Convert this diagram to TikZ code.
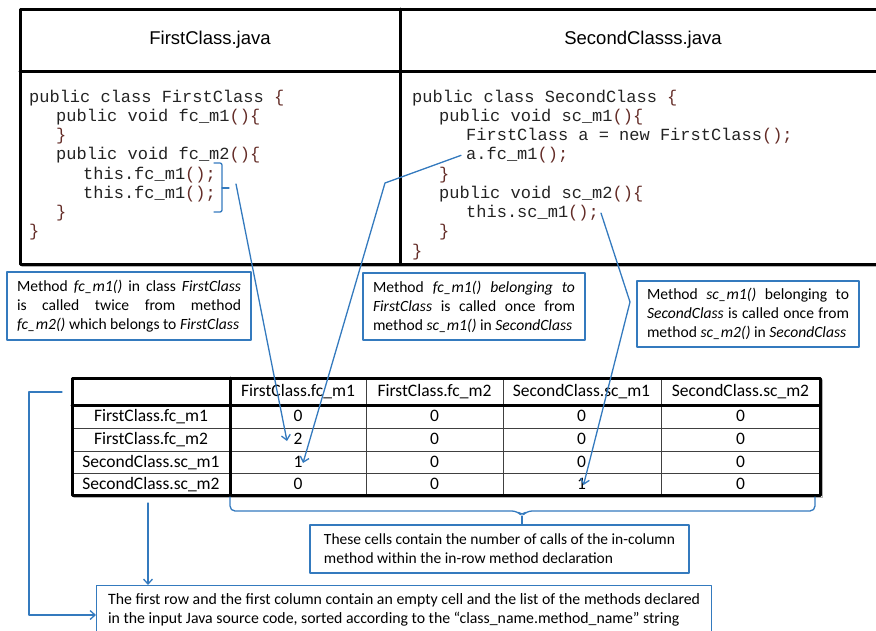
\documentclass[tikz,border=0pt]{standalone}
\usepackage{fontspec}
\usepackage{tikz}
\usetikzlibrary{arrows.meta}
\newfontfamily\headfont{Liberation Sans}
\newfontfamily\codefont{Liberation Mono}
\newfontfamily\notefont{Carlito}
\definecolor{callblue}{RGB}{52,122,190}
\definecolor{codebr}{RGB}{100,45,40}
\definecolor{codetxt}{RGB}{35,35,35}
\newcommand{\dl}[1]{\textcolor{codebr}{#1}}

\begin{document}
\begin{tikzpicture}[line cap=round,line join=round,>={Straight Barb[length=5pt,width=9pt]},x=1pt,y=-1pt,
	filehead/.style={font=\headfont\fontsize{18.5}{22}\selectfont},
	codeline/.style={anchor=base west,inner sep=0pt,text=codetxt,font=\codefont\fontsize{17}{20}\selectfont},
	notebox/.style={draw=callblue,line width=1.2pt,align=justify,inner xsep=10pt,font=\notefont\fontsize{15.6}{19}\selectfont},
	cellval/.style={text height=12pt,text depth=2pt,inner sep=1pt,font=\notefont\fontsize{17.5}{21}\selectfont},
	callline/.style={->,draw=callblue,line width=1.3pt}]
		\useasboundingbox (0,0) rectangle (876,630);
		\clip (0,0) rectangle (876,630);
		%%%%%%%%%%%%%%%%%%%%% S O U R C E S %%%%%%%%%%%%%%%%%%%%%
		\draw [line width=1.5pt,black!30] (22,266.5) -- (886,266.5);
		\draw [line width=3pt] (20,9) rectangle (886,264);
		\draw [line width=3pt] (20,71) -- (886,71);
		\draw [line width=3pt] (400,9) -- (400,264);
		\node[filehead] (fchead) at (210,40) {FirstClass.java};
		\node[filehead] (schead) at (643,40) {SecondClasss.java};
		%%%% FirstClass
		\node[codeline] (fc0) at (29,102) {public class FirstClass \dl{\{}};
		\node[codeline] (fc1) at (56,121.25) {public void fc\_m1\dl{()\{}};
		\node[codeline] (fc2) at (56,140.5) {\dl{\}}};
		\node[codeline] (fc3) at (56,159.75) {public void fc\_m2\dl{()\{}};
		\node[codeline] (fc4) at (83,179) {this.fc\_m1\dl{();}};
		\node[codeline] (fc5) at (83,198.25) {this.fc\_m1\dl{();}};
		\node[codeline] (fc6) at (56,217.5) {\dl{\}}};
		\node[codeline] (fc7) at (29,236.75) {\dl{\}}};
		%%%% SecondClass
		\node[codeline] (sc0) at (412,102) {public class SecondClass \dl{\{}};
		\node[codeline] (sc1) at (439,121.25) {public void sc\_m1\dl{()\{}};
		\node[codeline] (sc2) at (466,140.5) {FirstClass a = new FirstClass\dl{();}};
		\node[codeline] (sc3) at (466,159.75) {a.fc\_m1\dl{();}};
		\node[codeline] (sc4) at (439,179) {\dl{\}}};
		\node[codeline] (sc5) at (439,198.25) {public void sc\_m2\dl{()\{}};
		\node[codeline] (sc6) at (466,217.5) {this.sc\_m1\dl{();}};
		\node[codeline] (sc7) at (439,236.75) {\dl{\}}};
		\node[codeline] (sc8) at (412,256) {\dl{\}}};
		
		%%%%%%%%%%%%%%%%%%%%% N O T E S %%%%%%%%%%%%%%%%%%%%%
		\node[notebox,text width=224pt,minimum height=68pt] (twicenote) at (129,306) {Method \textit{fc\_m1()} in class \textit{FirstClass}\linebreak is called twice from method\linebreak \textit{fc\_m2()} which belongs to \textit{FirstClass}};
		\node[notebox,text width=202pt,minimum height=67pt] (oncenote) at (474,306.5) {Method \textit{fc\_m1() belonging to}\linebreak \textit{FirstClass} is called once from\linebreak method \textit{sc\_m1()} in \textit{SecondClass}};
		\node[notebox,text width=202pt,minimum height=66pt] (selfnote) at (748,314) {Method \textit{sc\_m1()} belonging to\linebreak \textit{SecondClass} is called once from\linebreak method \textit{sc\_m2()} in \textit{SecondClass}};
		
		%%%%%%%%%%%%%%%%%%%%% M A T R I X %%%%%%%%%%%%%%%%%%%%%
		\draw [line width=1.5pt,black!30] (74,497.5) -- (822.5,497.5) -- (822.5,380);
		\draw [line width=1pt,black!75] (72,428) -- (820,428);
		\draw [line width=1pt,black!75] (72,451) -- (820,451);
		\draw [line width=1pt,black!75] (72,473) -- (820,473);
		\draw [line width=1pt,black!75] (366,378) -- (366,495);
		\draw [line width=1pt,black!75] (503,378) -- (503,495);
		\draw [line width=1pt,black!75] (661,378) -- (661,495);
		\draw [line width=3pt] (72,378) rectangle (820,495);
		\draw [line width=3pt] (72,405) -- (820,405);
		\draw [line width=3pt] (230,378) -- (230,495);
		%%%% headers
		\node[cellval] (h1) at (298,391.5) {FirstClass.fc\_m1};
		\node[cellval] (h2) at (434.5,391.5) {FirstClass.fc\_m2};
		\node[cellval] (h3) at (581.5,391.5) {SecondClass.sc\_m1};
		\node[cellval] (h4) at (740.5,391.5) {SecondClass.sc\_m2};
		\node[cellval] (r1) at (151,416.5) {FirstClass.fc\_m1};
		\node[cellval] (r2) at (151,439.5) {FirstClass.fc\_m2};
		\node[cellval] (r3) at (151,462) {SecondClass.sc\_m1};
		\node[cellval] (r4) at (151,484) {SecondClass.sc\_m2};
		%%%% calls
		\node[cellval] (v11) at (298,416.5) {0}; \node[cellval] (v12) at (434.5,416.5) {0};
		\node[cellval] (v13) at (581.5,416.5) {0}; \node[cellval] (v14) at (740.5,416.5) {0};
		\node[cellval] (v21) at (298,439.5) {2}; \node[cellval] (v22) at (434.5,439.5) {0};
		\node[cellval] (v23) at (581.5,439.5) {0}; \node[cellval] (v24) at (740.5,439.5) {0};
		\node[cellval] (v31) at (298,462) {1}; \node[cellval] (v32) at (434.5,462) {0};
		\node[cellval] (v33) at (581.5,462) {0}; \node[cellval] (v34) at (740.5,462) {0};
		\node[cellval] (v41) at (298,484) {0}; \node[cellval] (v42) at (434.5,484) {0};
		\node[cellval] (v43) at (581.5,484) {1}; \node[cellval] (v44) at (740.5,484) {0};
		
		%%%% bottom notes
		\node[notebox,align=left,font=\notefont\fontsize{15.5}{19}\selectfont,minimum width=379pt,minimum height=48pt] (cellnote) at (499.5,549) {These cells contain the number of calls of the in-column\\method within the in-row method declaration};
		\node[notebox,text width=592pt,inner xsep=11.5pt,inner ysep=8pt,font=\notefont\fontsize{15.8}{19}\selectfont,anchor=north west] (rowsnote) at (96,585) {The first row and the first column contain an empty cell and the list of the methods declared\linebreak in the input Java source code, sorted according to the “class\_name.method\_name” string\\\strut};
		
		%%%%%%%%%%%%%%%%%%%%% C A L L S %%%%%%%%%%%%%%%%%%%%%
		\draw [draw=callblue,line width=1.3pt,rounded corners=2pt] (214,163) -- (222,163) -- (222,212) -- (214,212);
		\draw [draw=callblue,line width=1.3pt] (222,188) -- (229,188);
		\coordinate (brk) at (236,184);
		\draw [callline] (brk) -- ([shift={(-11,1.5)}]v21.center);
		\coordinate (bend1) at (385,183);
		\draw [callline] ([xshift=-5pt]sc3.west) -- (bend1) -- ([shift={(5,1)}]v31.center);
		\coordinate (bend2) at (630,302);
		\draw [callline] ([xshift=2pt]sc6.east) -- (bend2) -- ([shift={(2,1)}]v43.center);
		%BRACE
		\draw [draw=callblue,line width=1.3pt,rounded corners=5pt] (230,497) -- (230,511) -- (517,511) -- (522,516) -- (527,511) -- (815,511) -- (815,497);
		\coordinate (bmid) at (522,516);
		\draw [draw=callblue,line width=1.3pt] (bmid) -- (bmid |- cellnote.north);
		%FIRST ROW AND COLUMN
		\coordinate (dstart) at (148,503);
		\draw [callline] (dstart) -- (dstart |- rowsnote.north);
		\coordinate (lstart) at (62,392);
		\coordinate (lbend) at (29,615);
		\draw [callline] (lstart) -| (lbend) -- (lbend -| rowsnote.west);
	\end{tikzpicture}
\end{document}
